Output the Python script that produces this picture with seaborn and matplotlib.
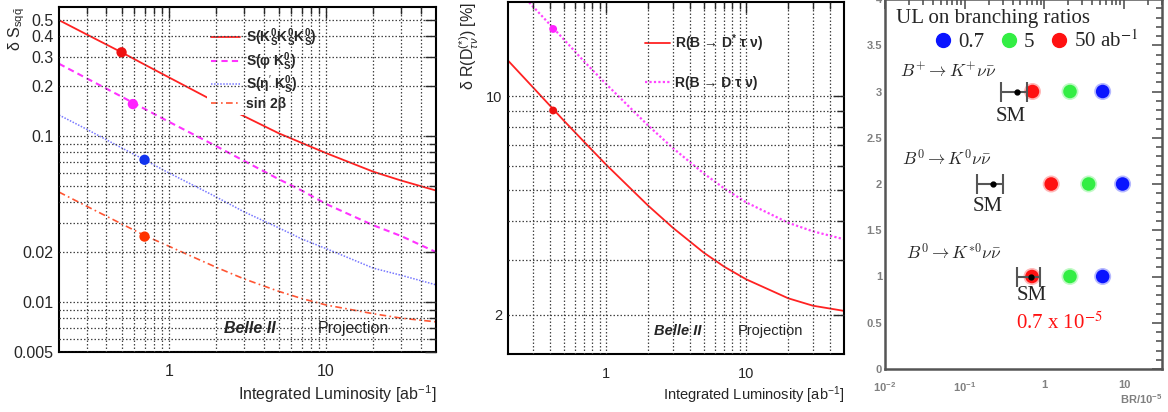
import matplotlib
matplotlib.use("Agg")
import matplotlib.pyplot as plt
import pandas as pd
import seaborn as sns
from matplotlib.lines import Line2D
from matplotlib.ticker import FixedLocator, FixedFormatter, NullFormatter, LogLocator

# ---- panel 1: delta S projections vs luminosity
lumi = [0.2, 0.3, 0.5, 0.7, 1, 2, 3, 5, 7, 10, 20, 30, 50]
s_ksksks = [0.50, 0.41, 0.32, 0.27, 0.226, 0.16, 0.132, 0.104, 0.091, 0.079, 0.061, 0.054, 0.047]
s_phiks = [0.273, 0.223, 0.173, 0.146, 0.122, 0.087, 0.071, 0.055, 0.047, 0.039, 0.029, 0.025, 0.020]
s_etaks = [0.134, 0.110, 0.085, 0.072, 0.060, 0.043, 0.035, 0.028, 0.024, 0.021, 0.016, 0.0145, 0.0127]
sin2b = [0.046, 0.0378, 0.0296, 0.0252, 0.0217, 0.0162, 0.0138, 0.0116, 0.0105, 0.0096, 0.0085, 0.0080, 0.0076]
cpv_now_lumi = [0.5, 0.59, 0.7, 0.7]
cpv_now_val = [0.32, 0.156, 0.072, 0.0248]

# ---- panel 2: delta R(D(*)) projections
r_dstar = [13.0, 10.7, 8.36, 7.14, 6.05, 4.47, 3.80, 3.16, 2.85, 2.60, 2.26, 2.14, 2.06]
r_d = [23.7, 19.4, 15.2, 12.9, 10.95, 8.06, 6.83, 5.66, 5.07, 4.58, 3.94, 3.70, 3.49]
rd_now_lumi = [0.42, 0.42]
rd_now_val = [9.0, 16.4]

# ---- panel 3: UL on B -> K(*) nu nubar
rows = [3, 2, 1]
sm_center = [0.45, 0.226, 0.69]
sm_lo = [0.29, 0.143, 0.46]
sm_hi = [0.60, 0.30, 0.87]
ul_07 = [5.4, 9.6, 5.4]
ul_5 = [2.1, 3.6, 2.1]
ul_50 = [0.71, 1.22, 0.70]

sns.set_style("white")
plt.rcParams["font.family"] = ["Liberation Sans", "DejaVu Sans"]
plt.rcParams["mathtext.fontset"] = "custom"
plt.rcParams["mathtext.rm"] = "Liberation Sans"
plt.rcParams["mathtext.it"] = "Liberation Sans:italic"
plt.rcParams["mathtext.bf"] = "Liberation Sans:bold"

fig = plt.figure(figsize=(11.68, 4.12), dpi=100)
ax1 = fig.add_axes([59 / 1168, 1 - 352 / 412, 377 / 1168, 345 / 412])
ax2 = fig.add_axes([508 / 1168, 1 - 354 / 412, 336 / 1168, 352 / 412])
ax3 = fig.add_axes([885 / 1168, 1 - 369 / 412, 277 / 1168, 370 / 412])

grid_kw = dict(color="#444444", linestyle=(0, (1.2, 1.6)), linewidth=0.9)


def root_style(ax, labelsize):
    ax.set_xscale("log")
    ax.set_yscale("log")
    ax.tick_params(which="both", direction="in", top=True, right=True, width=1)
    ax.tick_params(which="major", length=8, labelsize=labelsize, pad=4)
    ax.tick_params(axis="x", which="major", pad=9)
    ax.tick_params(which="minor", length=5)
    ax.xaxis.set_major_locator(FixedLocator([1, 10]))
    ax.xaxis.set_major_formatter(FixedFormatter(["1", "10"]))
    ax.xaxis.set_minor_locator(FixedLocator([0.3, 0.4, 0.5, 0.6, 0.7, 0.8, 0.9,
                                             2, 3, 4, 5, 6, 7, 8, 9, 20, 30, 40]))
    ax.xaxis.set_minor_formatter(NullFormatter())
    for sp in ax.spines.values():
        sp.set_linewidth(1.5)
        sp.set_color("black")
    ax.set_axisbelow(False)


def add_grid(ax):
    ax.grid(True, which="major", **grid_kw)
    ax.grid(True, which="minor", **grid_kw)


# ---------------- panel 1
df1 = pd.DataFrame({"lumi": lumi, "kkk": s_ksksks, "phi": s_phiks, "eta": s_etaks, "s2b": sin2b})
series1 = [
    ("kkk", "#ff2222", "-", 1.3, r"S(K$^{\mathbf{0}}_{\mathbf{S}}$K$^{\mathbf{0}}_{\mathbf{S}}$K$^{\mathbf{0}}_{\mathbf{S}}$)"),
    ("phi", "#ff33ff", (0, (3, 2)), 1.5, r"S(φ K$^{\mathbf{0}}_{\mathbf{S}}$)"),
    ("eta", "#7777ff", (0, (1, 1)), 1.1, r"S(η$^{\prime}$ K$^{\mathbf{0}}_{\mathbf{S}}$)"),
    ("s2b", "#ff5533", (0, (4, 2, 1, 2)), 1.2, "sin 2β"),
]
for col, c, ls, lw, lab in series1:
    sns.lineplot(data=df1, x="lumi", y=col, color=c, linestyle=ls, linewidth=lw,
                 label=lab, ax=ax1, zorder=1.8)
sns.scatterplot(x=cpv_now_lumi, y=cpv_now_val, hue=["a", "b", "c", "d"],
                palette=["#ee1111", "#ff22ff", "#1133ee", "#ff3300"], s=55,
                edgecolor="none", legend=False, ax=ax1, zorder=3)
root_style(ax1, 11.5)
ax1.set_xlim(0.2, 50)
ax1.set_ylim(0.005, 0.6)
ax1.yaxis.set_major_locator(FixedLocator([0.005, 0.01, 0.02, 0.1, 0.2, 0.3, 0.4, 0.5]))
ax1.yaxis.set_major_formatter(FixedFormatter(["0.005", "0.01", "0.02", "0.1", "0.2", "0.3", "0.4", "0.5"]))
ax1.yaxis.set_minor_locator(FixedLocator([0.006, 0.007, 0.008, 0.009, 0.03, 0.04,
                                          0.05, 0.06, 0.07, 0.08, 0.09]))
ax1.yaxis.set_minor_formatter(NullFormatter())
add_grid(ax1)
ax1.set_xlabel("Integrated Luminosity [ab$^{-1}$]", fontsize=11.5, loc="right")
ax1.xaxis.set_label_coords(1.0, -0.09)
ax1.set_ylabel(r"δ S$_{\mathrm{sq\bar{q}}}$", fontsize=11.5, loc="top")
ax1.yaxis.set_label_coords(-0.085, 1.0)
leg1 = ax1.legend(loc="upper left", bbox_to_anchor=(0.393, 0.955), frameon=True,
                  facecolor="white", edgecolor="none", framealpha=1, fancybox=False,
                  prop=dict(weight="bold", size=10), handlelength=2.1,
                  handletextpad=0.4, labelspacing=0.05, borderaxespad=0, borderpad=0.3)
leg1.set_zorder(2)
ax1.text(0.438, 0.069, "Belle II", transform=ax1.transAxes, fontsize=11.5,
         fontweight="bold", style="italic", va="center")
ax1.text(0.687, 0.069, "Projection", transform=ax1.transAxes, fontsize=11.5, va="center")

# ---------------- panel 2
df2 = pd.DataFrame({"lumi": lumi, "dstar": r_dstar, "d": r_d})
sns.lineplot(data=df2, x="lumi", y="dstar", color="#ff2222", linewidth=1.3,
             label=r"R(B → D$^{\mathbf{*}}$ τ ν)", ax=ax2, zorder=1.8)
sns.lineplot(data=df2, x="lumi", y="d", color="#ff44ff", linestyle=(0, (1, 1)),
             linewidth=1.6, label="R(B → D τ ν)", ax=ax2, zorder=1.8)
sns.scatterplot(x=rd_now_lumi, y=rd_now_val, hue=["a", "b"], palette=["#ee1111", "#ff22ff"],
                s=32, edgecolor="none", legend=False, ax=ax2, zorder=3)
root_style(ax2, 10.5)
ax2.set_xlim(0.2, 50)
ax2.set_ylim(1.5, 20)
ax2.yaxis.set_major_locator(FixedLocator([2, 10]))
ax2.yaxis.set_major_formatter(FixedFormatter(["2", "10"]))
ax2.yaxis.set_minor_locator(FixedLocator([3, 4, 5, 6, 7, 8, 9]))
ax2.yaxis.set_minor_formatter(NullFormatter())
add_grid(ax2)
ax2.set_xlabel("Integrated Luminosity [ab$^{-1}$]", fontsize=10.5, loc="right")
ax2.xaxis.set_label_coords(1.0, -0.085)
ax2.set_ylabel(r"δ R(D$^{(*)}_{\tau\nu}$) [%]", fontsize=11.5, loc="top")
ax2.yaxis.set_label_coords(-0.08, 1.0)
leg2 = ax2.legend(loc="upper left", bbox_to_anchor=(0.39, 0.93), frameon=True,
                  facecolor="white", edgecolor="none", framealpha=1, fancybox=False,
                  prop=dict(weight="bold", size=10), handlelength=1.8,
                  handletextpad=0.4, labelspacing=1.6, borderaxespad=0, borderpad=0.4)
leg2.set_zorder(2)
ax2.text(0.435, 0.065, "Belle II", transform=ax2.transAxes, fontsize=10.5,
         fontweight="bold", style="italic", va="center")
ax2.text(0.685, 0.065, "Projection", transform=ax2.transAxes, fontsize=10.5, va="center")

# ---------------- panel 3
serif = "Liberation Serif"
df3 = pd.DataFrame({
    "br": ul_07 + ul_5 + ul_50,
    "row": rows * 3,
    "lumi": ["0.7"] * 3 + ["5"] * 3 + ["50"] * 3,
})
pal3 = {"0.7": "#0a14ff", "5": "#33ee44", "50": "#ff1111"}
sns.scatterplot(data=df3, x="br", y="row", hue="lumi", palette=pal3, s=150, alpha=0.3,
                edgecolor="none", legend=False, ax=ax3, zorder=2)
sns.scatterplot(data=df3, x="br", y="row", hue="lumi", palette=pal3, s=95,
                edgecolor="none", legend=False, ax=ax3, zorder=3)
err = [[c - lo for c, lo in zip(sm_center, sm_lo)], [hi - c for c, hi in zip(sm_center, sm_hi)]]
ax3.errorbar(sm_center, rows, xerr=err, fmt="o", color="black", ms=3.5, ecolor="#555555",
             elinewidth=1.5, capsize=7, capthick=1.5, zorder=5)
ax3.set_xscale("log")
ax3.set_xlim(0.01, 30)
ax3.set_ylim(0, 4)
ax3.yaxis.set_major_locator(FixedLocator([0, 0.5, 1, 1.5, 2, 2.5, 3, 3.5, 4]))
ax3.yaxis.set_major_formatter(FixedFormatter(["0", "0.5", "1", "1.5", "2", "2.5", "3", "3.5", "4"]))
ax3.yaxis.set_minor_locator(FixedLocator([i / 10 for i in range(41)]))
ax3.xaxis.set_major_locator(FixedLocator([0.01, 0.1, 1, 10]))
ax3.xaxis.set_major_formatter(FixedFormatter([r"$\mathbf{10^{-2}}$", r"$\mathbf{10^{-1}}$", "1", "10"]))
ax3.xaxis.set_minor_locator(LogLocator(base=10, subs=range(2, 10)))
ax3.xaxis.set_minor_formatter(NullFormatter())
ax3.tick_params(which="both", direction="in", top=True, right=True, color="#555555",
                width=1.2, labelcolor="#808080", labelsize=8)
ax3.tick_params(which="major", length=7)
ax3.tick_params(axis="y", which="major", pad=2)
ax3.tick_params(axis="x", which="major", pad=8)
ax3.tick_params(which="minor", length=4)
for t in ax3.get_xticklabels() + ax3.get_yticklabels():
    t.set_fontweight("bold")
for sp in ax3.spines.values():
    sp.set_linewidth(1.8)
    sp.set_color("#555555")
ax3.set_xlabel(r"BR/10$^{\mathbf{-5}}$", fontsize=8, color="#808080", fontweight="bold", loc="right")
ax3.xaxis.set_label_coords(1.0, -0.062)
ax3.set_ylabel("")

ax3.text(0.04, 0.972, "UL on branching ratios", transform=ax3.transAxes, va="top",
         family=serif, fontsize=15)
handles = [Line2D([], [], marker="o", ls="", color=pal3[k], ms=10) for k in ["0.7", "5", "50"]]
ax3.legend(handles, ["0.7", "5", "50 ab$^{-1}$"], ncol=3, loc="center left",
           bbox_to_anchor=(0.18, 0.886), frameon=False,
           prop=dict(family=serif, size=15, math_fontfamily="stix"),
           handlelength=0.8, handletextpad=0.3, columnspacing=0.8,
           borderpad=0, borderaxespad=0)

decay_kw = dict(fontsize=12.5, math_fontfamily="cm", va="center", ha="left")
ax3.text(0.0153, 3.22, r"$B^{+}\rightarrow K^{+}\nu\bar{\nu}$", **decay_kw)
ax3.text(0.0162, 2.28, r"$B^{0}\rightarrow K^{0}\nu\bar{\nu}$", **decay_kw)
ax3.text(0.0182, 1.26, r"$B^{0}\rightarrow K^{*0}\nu\bar{\nu}$", **decay_kw)
sm_kw = dict(family=serif, fontsize=15, ha="center", va="center")
ax3.text(0.378, 2.73, "SM", **sm_kw)
ax3.text(0.196, 1.76, "SM", **sm_kw)
ax3.text(0.69, 0.79, "SM", **sm_kw)
ax3.text(0.436, 0.5, "0.7 x 10$^{-5}$", family=serif, fontsize=15, color="#ff1111",
         va="center", ha="left", math_fontfamily="stix")

fig.savefig("out.png", dpi=100)
